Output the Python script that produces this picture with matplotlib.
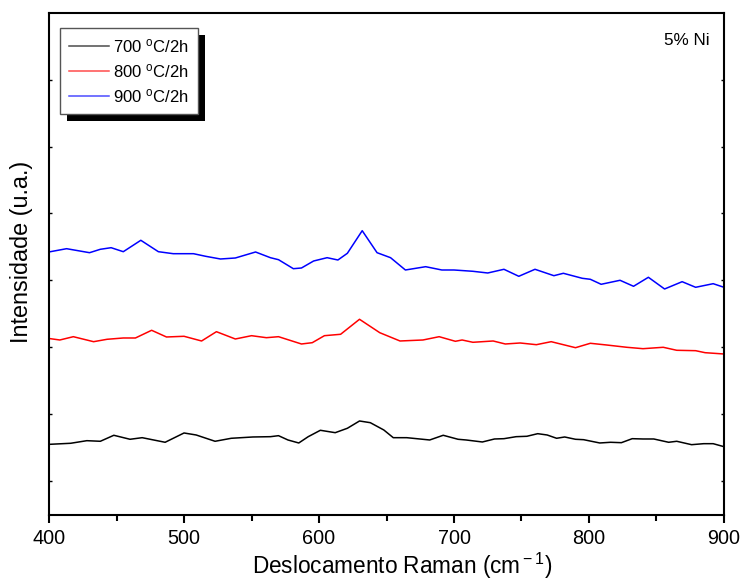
import numpy as np
import matplotlib
matplotlib.use('Agg')
import matplotlib.pyplot as plt
from matplotlib.patches import Rectangle

# Raman shift (cm-1) and intensity (a.u.)
x_700 = [401, 416, 428, 438, 448, 460, 469, 486, 500, 509, 523, 535, 551, 564, 570, 577,
         585, 592, 601, 612, 621, 630, 638, 648, 655, 665, 682, 692, 703, 709, 721, 730,
         737, 746, 754, 762, 769, 776, 782, 790, 796, 808, 816, 824, 832, 840, 848, 859,
         865, 876, 885, 892, 900]
y_700 = [70.7, 71.7, 74.3, 73.7, 79.7, 75.7, 77.3, 72.7, 82, 80, 73.7, 76.7, 78, 78.3, 79.3, 75,
         72, 78.3, 84.7, 82.3, 86.7, 94, 92.3, 85, 77.3, 77.3, 75, 79.7, 75.7, 75, 73, 76,
         76.3, 78.3, 78.7, 81.3, 80, 76.7, 78, 75.7, 75.3, 72, 72.7, 72.3, 76.3, 76, 76, 72.7,
         73.7, 70.3, 71.3, 71.3, 68.3]

x_800 = [401, 408, 418, 433, 443, 455, 464, 476, 487, 500, 513, 524, 538, 550, 561, 570,
         587, 595, 604, 616, 630, 645, 660, 677, 689, 701, 706, 714, 729, 738, 749, 761,
         772, 790, 801, 813, 828, 840, 855, 865, 879, 886, 900]
y_800 = [176.3, 175, 178.3, 173.3, 175.7, 177, 177, 184.7, 178, 178.7, 174, 183.3, 176, 179.3, 177.3, 178.3,
         171, 172.3, 179.3, 180.7, 195.7, 182.3, 174, 175, 178.3, 173.7, 175, 172.7, 174, 171, 172, 170.3,
         173.3, 167.3, 171.7, 170, 167.7, 166.3, 167.7, 164.7, 164.3, 162.3, 161]

x_900 = [401, 413, 430, 438, 446, 455, 468, 481, 492, 507, 516, 527, 538, 553, 564, 570,
         581, 587, 596, 606, 614, 621, 632, 643, 653, 664, 679, 691, 700, 714, 725, 737,
         748, 760, 774, 781, 795, 801, 809, 823, 833, 844, 856, 869, 879, 892, 900]
y_900 = [263.3, 266.3, 262.3, 265.7, 267.3, 263.3, 274.7, 263.3, 261.3, 261.3, 258.7, 256, 257, 263, 257.3, 255.3,
         246.3, 247, 254, 257.3, 255, 261.7, 284.3, 262.3, 257.3, 245, 248.3, 245, 245, 243.7, 242, 245.7,
         238.7, 245.7, 239.3, 241.7, 236.7, 235.7, 230.7, 234.7, 228.7, 237.7, 226, 233.3, 227.7, 231.3, 227.7]

labels = [r'700 $^{\rm o}$C/2h', r'800 $^{\rm o}$C/2h', r'900 $^{\rm o}$C/2h']
colors = ['black', 'red', 'blue']

plt.rcParams['font.family'] = 'Liberation Sans'
plt.rcParams['mathtext.fontset'] = 'custom'
plt.rcParams['mathtext.rm'] = 'Liberation Sans'
plt.rcParams['mathtext.it'] = 'Liberation Sans:italic'


def plot_spectra():
    fig = plt.figure(figsize=(7.43, 5.86), dpi=100)
    ax = fig.add_axes([0.066, 0.1212, 0.9084, 0.8566])

    for xs, ys, c, lab in zip([x_700, x_800, x_900], [y_700, y_800, y_900], colors, labels):
        ax.plot(xs, ys, color=c, lw=1.1, label=lab, solid_joinstyle='round')

    ax.set_xlim(400, 900)
    ax.set_ylim(0, 502)
    ax.set_xticks(np.arange(400, 901, 100))
    ax.set_xticks(np.arange(450, 900, 100), minor=True)
    ax.set_yticks(np.arange(33.5, 502, 67))
    ax.set_yticklabels([])
    ax.tick_params(axis='x', which='major', direction='out', length=6, width=1.5, labelsize=14.3, pad=4)
    ax.tick_params(axis='x', which='minor', direction='out', length=4, width=1.5)
    ax.tick_params(axis='y', direction='in', length=2.5, width=1, left=True, right=True)
    for sp in ax.spines.values():
        sp.set_linewidth(1.5)

    ax.set_xlabel(r'Deslocamento Raman (cm$^{\rm -1}$)', fontsize=16.3, labelpad=2)
    ax.set_ylabel('Intensidade (u.a.)', fontsize=16.8, labelpad=8)
    ax.xaxis.label.set_x(0.523)
    ax.yaxis.label.set_y(0.524)
    ax.text(0.979, 0.946, '5% Ni', transform=ax.transAxes, ha='right', va='center', fontsize=12.3)

    leg = ax.legend(loc='upper left', bbox_to_anchor=(0.016, 0.97), fontsize=12, frameon=True,
                    fancybox=False, framealpha=1, handlelength=2.4, handletextpad=0.25, borderpad=0.55,
                    labelspacing=0.42, borderaxespad=0)
    leg.get_frame().set_edgecolor('#555555')
    leg.get_frame().set_linewidth(1.0)
    for ln in leg.get_lines():
        ln.set_alpha(0.7)

    # solid black drop shadow behind the legend box
    fig.canvas.draw()
    bb = leg.get_window_extent().transformed(ax.transAxes.inverted())
    dx = 7 / (0.9084 * 743)
    dy = 7 / (0.8566 * 586)
    ax.add_patch(Rectangle((bb.x0 + dx, bb.y0 - dy), bb.width, bb.height, transform=ax.transAxes,
                           facecolor='black', edgecolor='none', zorder=4, clip_on=False))
    leg.set_zorder(5)

    fig.savefig('out.png', dpi=100)


if __name__ == "__main__":
    plot_spectra()
